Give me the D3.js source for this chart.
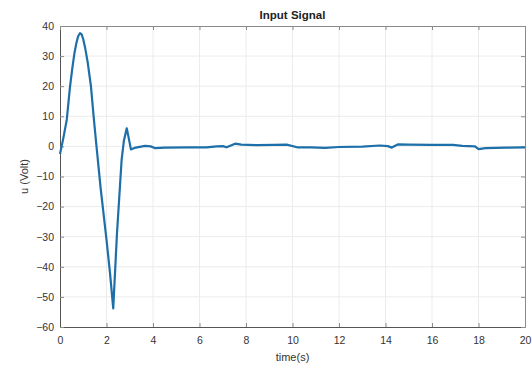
<!DOCTYPE html>
<html>
<head>
<meta charset="utf-8">
<script src="https://cdn.jsdelivr.net/npm/d3@7"></script>
<style>
  body { margin: 0; background: #fff; }
  text { font-family: "Liberation Sans", Arial, sans-serif; }
</style>
</head>
<body>
<div id="chart"></div>
<script>
// values
var time = [0, 0.15, 0.29, 0.43, 0.53, 0.62, 0.7, 0.78, 0.86, 0.93, 1.0, 1.08, 1.19, 1.33, 1.46, 1.57,
  1.75, 2.0, 2.15, 2.29, 2.45, 2.65, 2.75, 2.87, 2.95, 3.05, 3.2, 3.66, 3.9, 4.1, 4.5,
  5.5, 6.3, 6.74, 7.0, 7.17, 7.53, 7.8, 8.5, 9.2, 9.75, 10.2, 10.8, 11.4, 12, 13,
  13.76, 14.1, 14.27, 14.55, 15, 16, 16.9, 17.3, 17.85, 18.0, 18.3, 19.2, 20];
var u = [-2.5, 3, 8.8, 19.8, 26, 30.9, 34.2, 36.6, 37.6, 37.2, 35.6, 32.8, 28, 20, 8.8, 0,
  -14, -31, -42, -53.8, -29, -4.5, 2, 6, 3, -1.0, -0.5, 0.2, 0, -0.6, -0.4,
  -0.3, -0.3, 0, 0.1, -0.3, 0.9, 0.6, 0.4, 0.5, 0.6, -0.3, -0.3, -0.5, -0.2, -0.1,
  0.3, 0.1, -0.4, 0.7, 0.6, 0.5, 0.5, 0.2, 0.0, -0.9, -0.6, -0.4, -0.3];
var xTicks = [0, 2, 4, 6, 8, 10, 12, 14, 16, 18, 20];
var yTicks = [-60, -50, -40, -30, -20, -10, 0, 10, 20, 30, 40];

var width = 532, height = 365,
    margins = {top: 26, right: 7, bottom: 38, left: 60};

var x = d3.scaleLinear().domain([0, 20]).range([margins.left, width - margins.right]);
var y = d3.scaleLinear().domain([-60, 40]).range([height - margins.bottom, margins.top]);

var svg = d3.select('#chart').append('svg')
  .attr('width', width)
  .attr('height', height);

// grid
svg.append('g')
  .selectAll('line')
  .data(xTicks.slice(1, -1))
  .join('line')
  .attr('x1', d => x(d)).attr('x2', d => x(d))
  .attr('y1', y(-60)).attr('y2', y(40))
  .attr('stroke', '#ececec').attr('stroke-width', 1);
svg.append('g')
  .selectAll('line')
  .data(yTicks.slice(1, -1))
  .join('line')
  .attr('y1', d => y(d)).attr('y2', d => y(d))
  .attr('x1', x(0)).attr('x2', x(20))
  .attr('stroke', '#ececec').attr('stroke-width', 1);

// axes
var xAxis = svg.append('g')
  .attr('transform', 'translate(0,' + y(-60) + ')')
  .call(d3.axisBottom(x).tickValues(xTicks).tickSizeInner(-4).tickSizeOuter(0).tickPadding(10));
var yAxis = svg.append('g')
  .attr('transform', 'translate(' + x(0) + ',0)')
  .call(d3.axisLeft(y).tickValues(yTicks).tickSizeInner(-4).tickSizeOuter(0).tickPadding(6));
var xTop = svg.append('g')
  .attr('transform', 'translate(0,' + y(40) + ')')
  .call(d3.axisTop(x).tickValues(xTicks).tickSizeInner(-4).tickSizeOuter(0).tickFormat(''));
var yRight = svg.append('g')
  .attr('transform', 'translate(' + x(20) + ',0)')
  .call(d3.axisRight(y).tickValues(yTicks).tickSizeInner(-4).tickSizeOuter(0).tickFormat(''));

[xAxis, yAxis, xTop, yRight].forEach(function(g) {
  g.selectAll('path, line').attr('stroke', '#8a8a8a').attr('stroke-width', 1);
  g.selectAll('text').attr('fill', '#333').style('font-size', '10.5px');
});
xAxis.select('path').attr('stroke', '#555');
yAxis.select('path').attr('stroke', '#555');

// signal
var line = d3.line()
  .x((d, i) => x(time[i]))
  .y(d => y(d));

svg.append('path')
  .datum(u)
  .attr('fill', 'none')
  .attr('stroke', '#1d6fa9')
  .attr('stroke-width', 2.2)
  .attr('stroke-linejoin', 'round')
  .attr('d', line);

// labels
svg.append('text')
  .attr('x', (x(0) + x(20)) / 2)
  .attr('y', 19)
  .attr('text-anchor', 'middle')
  .style('font-size', '11.5px')
  .style('font-weight', 'bold')
  .attr('fill', '#222')
  .text('Input Signal');

svg.append('text')
  .attr('x', (x(0) + x(20)) / 2)
  .attr('y', 361)
  .attr('text-anchor', 'middle')
  .style('font-size', '11px')
  .attr('fill', '#333')
  .text('time(s)');

svg.append('text')
  .attr('transform', 'translate(28,' + (y(-60) + y(40)) / 2 + ') rotate(-90)')
  .attr('text-anchor', 'middle')
  .style('font-size', '11px')
  .attr('fill', '#333')
  .text('u (Volt)');
</script>
</body>
</html>
